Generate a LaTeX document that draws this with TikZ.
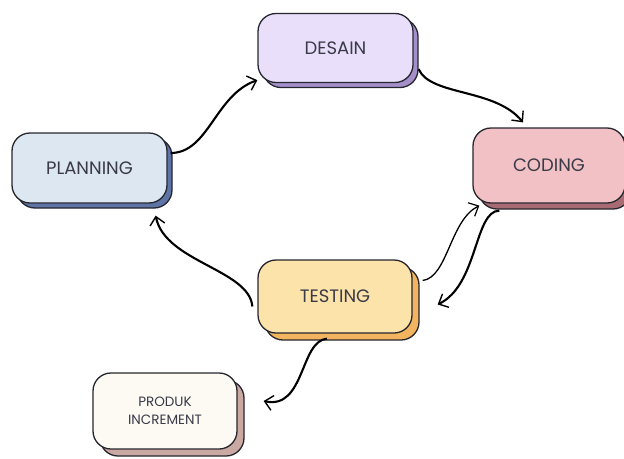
\documentclass[tikz,border=0pt]{standalone}
\usepackage{fontspec}
\setmainfont{Poppins}
\usetikzlibrary{arrows.meta,shadows,calc}

\definecolor{txt}{HTML}{3A3A48}
\definecolor{edge}{HTML}{26262E}
\definecolor{desainF}{HTML}{E9DFFA}
\definecolor{desainS}{HTML}{A48FCB}
\definecolor{planF}{HTML}{DCE7F1}
\definecolor{planS}{HTML}{5F74A6}
\definecolor{codeF}{HTML}{F1C1C5}
\definecolor{codeS}{HTML}{A86B73}
\definecolor{testF}{HTML}{FCE3AA}
\definecolor{testS}{HTML}{F2B45E}
\definecolor{prodF}{HTML}{FCFAF3}
\definecolor{prodS}{HTML}{C9A9A1}

\tikzset{
  phase/.style args={#1/#2/#3}{
    draw=edge, line width=1.3pt, rounded corners=18pt,
    fill=#1, text=txt, font=\fontsize{18}{21}\selectfont,
    align=center, inner sep=0pt,
    copy shadow={shadow xshift=#3pt, shadow yshift=-#3pt,
      fill=#2, draw=edge, line width=1.3pt}
  },
  flow/.style={draw=black, line width=2.1pt,
    -{Straight Barb[length=8pt,width=15pt,line width=1.4pt]}},
  thinflow/.style={draw=black, line width=1.3pt,
    -{Straight Barb[length=8pt,width=15pt,line width=1.2pt]}}
}

\begin{document}
\begin{tikzpicture}[x=1pt,y=-1pt]
  \useasboundingbox (0,0) rectangle (624,458);

  % phase boxes
  \node[phase=desainF/desainS/5, minimum width=155pt, minimum height=69pt] (desain) at (335.5,48) {DESAIN};
  \node[phase=planF/planS/5, minimum width=155pt, minimum height=70pt] (plan) at (89.5,168) {PLANNING};
  \node[phase=codeF/codeS/6, minimum width=152pt, minimum height=75pt] (coding) at (549,165.5) {CODING};
  \node[phase=testF/testS/7, minimum width=154pt, minimum height=73pt] (test) at (335,296.5) {TESTING};
  \node[phase=prodF/prodS/7, minimum width=144pt, minimum height=76pt,
        font=\fontsize{13.5}{17.5}\selectfont] (prod) at (165,411) {PRODUK\\INCREMENT};

  % cycle connectors
  \draw[flow] ([shift={(3,-15)}]plan.east)
    .. controls +(38,0) and (215,95) .. ([shift={(0,-3)}]desain.south west);
  \draw[flow] ([shift={(5,-14)}]desain.south east)
    .. controls +(12,27) and (495,88) .. ([shift={(-26,-5)}]coding.north);
  \draw[flow] ([shift={(27,7)}]coding.south west)
    .. controls +(-25,0) and (478,285) .. ([shift={(25,8)}]test.east);
  \draw[thinflow] ([shift={(10,-16)}]test.east)
    .. controls +(25,-3) and (450,220) .. ([shift={(7,2)}]coding.south west);
  \draw[flow] ([shift={(-5,10)}]test.west)
    .. controls +(-3,-37) and (165,262) .. ([shift={(-12,12)}]plan.south east);
  \draw[flow] ([shift={(-8,5)}]test.south)
    .. controls +(-27,2) and (305,410) .. ([shift={(26,-10)}]prod.east);
\end{tikzpicture}
\end{document}
